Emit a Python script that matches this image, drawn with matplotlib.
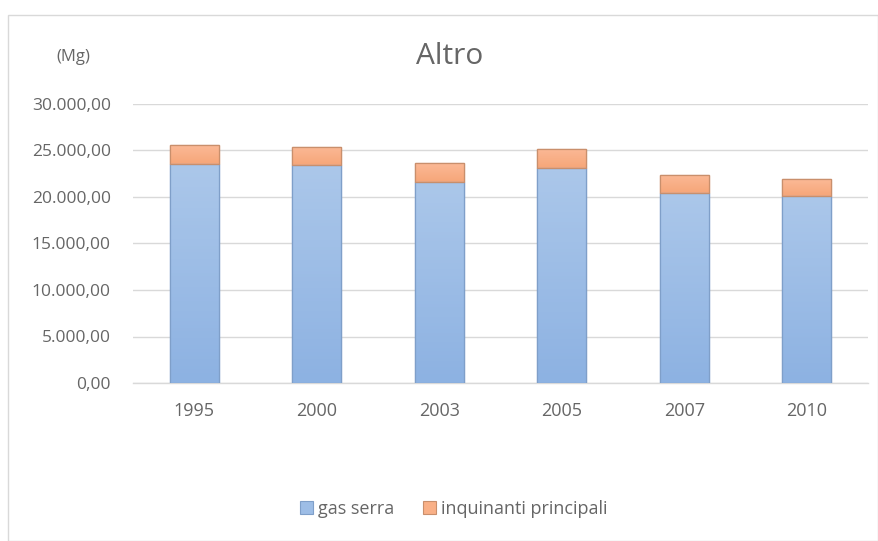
import matplotlib
matplotlib.use("Agg")
import matplotlib.pyplot as plt
import numpy as np
from matplotlib.patches import Rectangle, Patch
from matplotlib.colors import LinearSegmentedColormap
from matplotlib.ticker import FuncFormatter

# Data (Mg)
years = ["1995", "2000", "2003", "2005", "2007", "2010"]
gas_serra = [23580, 23410, 21650, 23090, 20400, 20110]
inquinanti_principali = [1980, 2000, 1970, 2070, 2000, 1790]
series_labels = ["gas serra", "inquinanti principali"]
title = "Altro"
unit_label = "(Mg)"

plt.rcParams["font.family"] = ["Open Sans", "DejaVu Sans"]
TEXT = "#666666"
GRID = "#d9d9d9"

W, H = 879, 541
fig = plt.figure(figsize=(W / 100, H / 100), dpi=100)
fig.patch.set_facecolor("white")

# chart frame
fig.add_artist(Rectangle((8 / W, 0), (W - 9) / W, (H - 15) / H,
                         transform=fig.transFigure, fill=False,
                         edgecolor="#d9d9d9", linewidth=1.0))

ax = fig.add_axes([133 / W, 1 - 383 / H, 735 / W, (383 - 104) / H])
ax.set_facecolor("white")

x = np.arange(len(years))
bw = 0.40

blue_cmap = LinearSegmentedColormap.from_list("b", ["#8db2e2", "#abc7ea"])
orange_cmap = LinearSegmentedColormap.from_list("o", ["#f6a679", "#fbb996"])
grad = np.linspace(0, 1, 64).reshape(-1, 1)

b1 = ax.bar(x, gas_serra, bw, color="#9dbde6", edgecolor="#7f9fc9",
            linewidth=0.9, label=series_labels[0], zorder=3)
b2 = ax.bar(x, inquinanti_principali, bw, bottom=gas_serra, color="#f9b087",
            edgecolor="#c98f6c", linewidth=0.9, label=series_labels[1], zorder=3)

# vertical gradient fills inside each bar
for bars, cmap in ((b1, blue_cmap), (b2, orange_cmap)):
    for r in bars:
        x0, y0 = r.get_x(), r.get_y()
        w, h = r.get_width(), r.get_height()
        im = ax.imshow(grad, cmap=cmap, origin="lower", aspect="auto",
                       extent=(x0, x0 + w, y0, y0 + h), zorder=3.5)
        im.set_clip_path(r)
        edge = Rectangle((x0, y0), w, h, fill=False,
                         edgecolor=r.get_edgecolor(), linewidth=0.9, zorder=4)
        ax.add_patch(edge)

ax.set_xlim(-0.5, len(years) - 0.5)
ax.set_ylim(0, 30000)
ax.set_yticks(np.arange(0, 30001, 5000))
ax.yaxis.set_major_formatter(FuncFormatter(
    lambda v, p: f"{v:,.2f}".replace(",", "X").replace(".", ",").replace("X", ".")))
ax.set_xticks(x)
ax.set_xticklabels(years)
ax.grid(axis="y", color=GRID, linewidth=1.0, zorder=0)
ax.set_axisbelow(True)
for s in ("top", "right", "left"):
    ax.spines[s].set_visible(False)
ax.spines["bottom"].set_color(GRID)
ax.spines["bottom"].set_linewidth(1.0)
ax.tick_params(axis="both", length=0, colors=TEXT)
ax.tick_params(axis="y", pad=16, labelsize=12.5)
ax.tick_params(axis="x", pad=14, labelsize=13)

fig.text(450 / W, 1 - 56 / H, title, ha="center", va="center",
         fontsize=21.5, color=TEXT)
fig.text(73 / W, 1 - 57 / H, unit_label, ha="center", va="center",
         fontsize=12, color=TEXT)

handles = [Patch(facecolor="#9dbde6", edgecolor="#7f9fc9", linewidth=0.8),
           Patch(facecolor="#f9b087", edgecolor="#c98f6c", linewidth=0.8)]
fig.legend(handles, series_labels, loc="center", ncol=2,
           bbox_to_anchor=(454 / W, 1 - 509 / H), frameon=False,
           fontsize=13, labelcolor=TEXT, handlelength=0.7, handleheight=0.7,
           handletextpad=0.3, columnspacing=1.6)

fig.savefig("out.png", dpi=100, facecolor="white")
